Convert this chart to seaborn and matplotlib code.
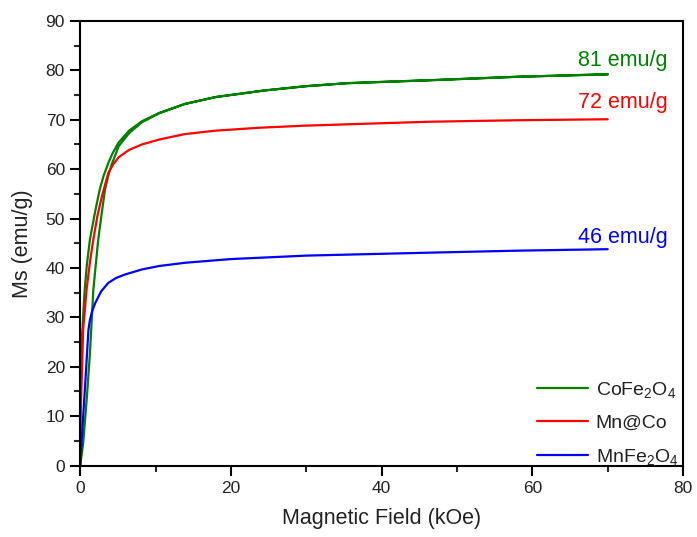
import numpy as np
import pandas as pd
import seaborn as sns
import matplotlib
matplotlib.use("Agg")
import matplotlib.pyplot as plt

# CoFe2O4: virgin branch up to 70 kOe, then return branch
co_field = [0, 0.4, 0.9, 1.3, 1.75, 2.4, 2.9, 3.3, 3.75, 4.2, 5.1, 6.5, 8.2, 10.5, 13.9, 18, 24.3, 30, 35.4, 46.4, 58, 70,
            58, 46.4, 35.4, 30, 24.3, 18, 13.9, 10.5, 8.2, 6.5, 5.1, 4.3, 3.75, 3.1, 2.6, 2.0, 1.3, 0.9, 0.6, 0.2, 0]
co_ms = [0, 4.5, 14.0, 22.8, 35.6, 45.8, 51.5, 55.9, 58.8, 61.0, 64.6, 67.3, 69.5, 71.3, 73.2, 74.6, 75.9, 76.8, 77.4, 78.0, 78.7, 79.2,
         78.7, 78.0, 77.4, 76.8, 75.9, 74.6, 73.2, 71.4, 69.7, 67.8, 65.4, 63.2, 61.3, 58.6, 55.9, 51.5, 45.8, 40.8, 35.6, 25.0, 18.0]

mn_co_field = [0, 0.1, 0.4, 0.85, 1.3, 1.75, 2.3, 2.9, 3.75, 4.4, 5.1, 6.5, 8.2, 10.5, 13.9, 18, 24, 29.8, 38, 46.4, 58, 70]
mn_co_ms = [0, 12.0, 27.5, 35.6, 41.2, 45.8, 50.6, 54.6, 59.3, 61.0, 62.4, 63.9, 65.0, 66.0, 67.1, 67.8, 68.4, 68.8, 69.2, 69.6, 69.9, 70.1]

mnfe_field = [0, 0.1, 0.65, 1.1, 1.3, 1.6, 2.0, 2.8, 3.75, 4.8, 6.0, 8.2, 10.5, 13.9, 20, 30, 46.4, 58, 70]
mnfe_ms = [0, 2.6, 16.0, 27.5, 29.5, 31.3, 32.9, 35.3, 37.0, 38.0, 38.7, 39.7, 40.4, 41.05, 41.8, 42.5, 43.1, 43.5, 43.8]

labels = ["CoFe$_2$O$_4$", "Mn@Co", "MnFe$_2$O$_4$"]
colors = ["#008000", "#ff0000", "#0000ff"]
annot_text = ["81 emu/g", "72 emu/g", "46 emu/g"]
annot_y = [81.9, 73.4, 46.2]

sns.set_theme(style="ticks")
plt.rcParams['font.family'] = ['Liberation Sans', 'DejaVu Sans']
plt.rcParams['mathtext.fontset'] = 'custom'
plt.rcParams['mathtext.rm'] = 'Liberation Sans'
plt.rcParams['mathtext.it'] = 'Liberation Sans'

fig = plt.figure(figsize=(6.97, 5.37), dpi=100)
ax = fig.add_axes([0.115, 0.133, 0.865, 0.828])

datasets = [(co_field, co_ms), (mn_co_field, mn_co_ms), (mnfe_field, mnfe_ms)]
for (xf, ym), lab, c in zip(datasets, labels, colors):
    df = pd.DataFrame({"H": xf, "M": ym})
    sns.lineplot(data=df, x="H", y="M", sort=False, estimator=None, color=c,
                 linewidth=1.6, label=lab, ax=ax)

for t, yv, c in zip(annot_text, annot_y, colors):
    ax.text(78.0, yv, t, color=c, fontsize=15.5, ha="right", va="center")

ax.set_xlim(0, 80)
ax.set_ylim(0, 90)
ax.set_xticks([0, 20, 40, 60, 80])
ax.set_xticks([10, 30, 50, 70], minor=True)
ax.set_yticks(range(0, 91, 10))
ax.set_yticks(range(5, 90, 10), minor=True)
ax.set_xlabel("Magnetic Field (kOe)", fontsize=15.5, color="#222222", labelpad=9)
ax.set_ylabel("Ms (emu/g)", fontsize=15.5, color="#222222", labelpad=9)
ax.tick_params(axis="both", which="major", direction="out", length=7, width=1.5,
               labelsize=12.5, colors="black", labelcolor="#222222", pad=4)
ax.tick_params(axis="both", which="minor", direction="out", length=4.5, width=1.5)
for s in ax.spines.values():
    s.set_linewidth(1.5)
    s.set_color("black")

leg = ax.legend(loc="lower right", bbox_to_anchor=(1.005, -0.02), frameon=False, fontsize=14,
                handlelength=2.6, labelspacing=0.75, borderaxespad=0.0, handletextpad=0.4)
for txt in leg.get_texts():
    txt.set_color("#222222")

fig.savefig("out.png", dpi=100)
